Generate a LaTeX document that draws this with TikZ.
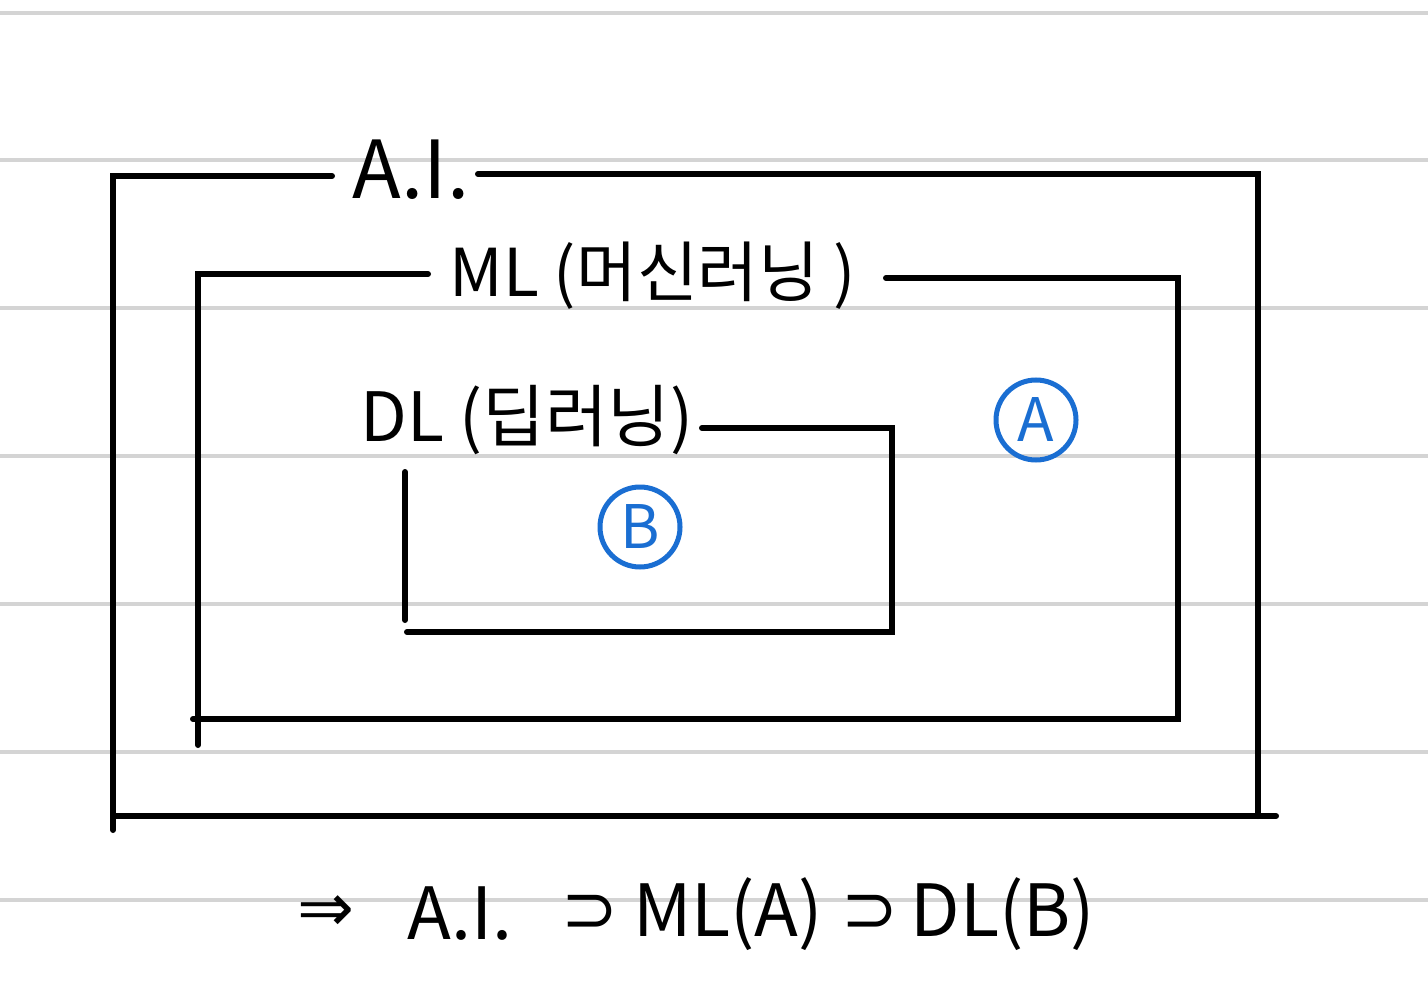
\documentclass[tikz,border=0pt]{standalone}
\usepackage{fontspec}
\setmainfont{Noto Sans CJK KR}
\newfontfamily\symfont{DejaVu Sans}
\definecolor{rule}{HTML}{D4D4D4}
\definecolor{pen}{HTML}{1A6ED2}
\begin{document}
\begin{tikzpicture}[x=0.5pt,y=-0.5pt,
  ruling/.style={draw=rule,line width=2pt},
  boxline/.style={draw=black,line width=3pt,line cap=round},
  lbl/.style={inner sep=0pt,font=\fontsize{33}{38}\selectfont},
  big/.style={inner sep=0pt,font=\fontsize{40}{46}\selectfont},
  concl/.style={inner sep=0pt,font=\fontsize{36}{42}\selectfont},
  sym/.style={inner sep=0pt,font=\symfont\fontsize{34}{40}\selectfont},
  circ/.style={draw=pen,line width=2.5pt,circle,minimum size=40pt,inner sep=0pt,text=pen,font=\fontsize{30}{34}\selectfont}]
\useasboundingbox (0,0) rectangle (1428,1000);
\fill[white] (0,0) rectangle (1428,1000);
% ruled paper
\foreach \yy in {13,160,308,456,604,752,900}
  \draw[ruling] (0,\yy) -- (1428,\yy);
% A.I. box
\node[big] (ai) at (411,170) {A.I.};
\draw[boxline] (332,176) -- (113,176) -- (113,830);
\draw[boxline] (478,174) -- (1258,174) -- (1258,816);
\draw[boxline] (113,816) -- (1276,816);
% ML box
\node[lbl] (ml) at (653,276) {ML (머신러닝 )};
\draw[boxline] (428,274) -- (198,274) -- (198,745);
\draw[boxline] (886,278) -- (1178,278) -- (1178,719) -- (193,719);
% DL box
\node[lbl,font=\fontsize{34}{38}\selectfont] (dl) at (527,420) {DL (딥러닝)};
\draw[boxline] (405,472) -- (405,620);
\draw[boxline] (702,428) -- (892,428) -- (892,632) -- (407,632);
% circled labels
\node[circ] (ca) at (1036,420) {A};
\node[circ] (cb) at (640,527) {B};
% conclusion
\node[sym] (imp) at (326,914) {⇒};
\node[concl] (t1) at (460,914) {A.I.};
\node[sym] (s1) at (590,914) {⊃};
\node[concl] (t2) at (728,914) {ML(A)};
\node[sym] (s2) at (870,914) {⊃};
\node[concl] (t3) at (1003,914) {DL(B)};
\end{tikzpicture}
\end{document}
